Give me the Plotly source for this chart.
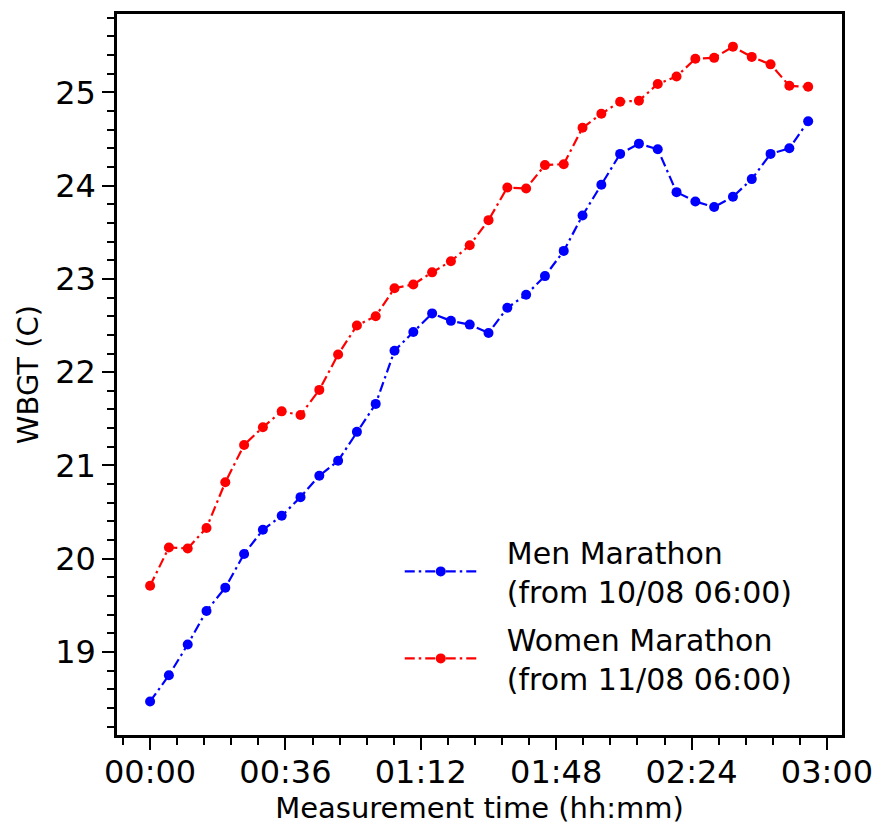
import plotly.graph_objects as go

minutes = [0, 5, 10, 15, 20, 25, 30, 35, 40, 45, 50, 55, 60, 65, 70, 75, 80, 85,
           90, 95, 100, 105, 110, 115, 120, 125, 130, 135, 140, 145, 150, 155, 160, 165, 170, 175]

men_wbgt = [18.47, 18.75, 19.08, 19.44, 19.69, 20.05, 20.31, 20.46, 20.66, 20.89,
            21.05, 21.36, 21.66, 22.23, 22.43, 22.63, 22.55, 22.51, 22.42, 22.69,
            22.83, 23.03, 23.30, 23.68, 24.01, 24.34, 24.45, 24.39, 23.93, 23.83,
            23.77, 23.88, 24.07, 24.34, 24.40, 24.69]

women_wbgt = [19.71, 20.12, 20.11, 20.33, 20.82, 21.22, 21.41, 21.58, 21.54, 21.81,
              22.19, 22.50, 22.60, 22.90, 22.94, 23.07, 23.19, 23.36, 23.63, 23.98,
              23.97, 24.22, 24.23, 24.62, 24.77, 24.90, 24.91, 25.09, 25.17, 25.36,
              25.37, 25.49, 25.38, 25.30, 25.07, 25.06]

x_tick_vals = [0, 36, 72, 108, 144, 180]
x_tick_text = ["00:00", "00:36", "01:12", "01:48", "02:24", "03:00"]

series_names = ["Men Marathon<br>(from 10/08 06:00)", "Women Marathon<br>(from 11/08 06:00)"]
series_colors = ["#0000ff", "#ff0000"]

FONT = "DejaVu Sans"
DASH = "10px,4px,2.5px,4px"
PAD = "\u00a0\u00a0\u2009"

fig = go.Figure()
for i, (name, vals, col) in enumerate(zip(series_names, [men_wbgt, women_wbgt], series_colors)):
    label = "<br>".join(PAD + part for part in name.split("<br>"))
    fig.add_trace(go.Scatter(
        x=minutes, y=vals, mode="lines+markers", name=label,
        legendgroup="g%d" % i,
        line=dict(color=col, width=2.2, dash=DASH),
        marker=dict(color=col, size=10, symbol="circle"),
    ))

axis_common = dict(
    showline=True, linecolor="black", linewidth=2.5, mirror=True,
    ticks="outside", ticklen=12, tickwidth=2, tickcolor="black",
    showgrid=False, zeroline=False,
    tickfont=dict(family=FONT, size=32, color="black"),
)

fig.update_xaxes(
    **axis_common,
    range=[-8.8, 184],
    tickmode="array", tickvals=x_tick_vals, ticktext=x_tick_text,
    ticklabelstandoff=-5,
    minor=dict(ticks="outside", ticklen=7, tickwidth=2, tickcolor="black", dtick=7.2, tick0=0),
    title=dict(text="Measurement time (hh:mm)", font=dict(family=FONT, size=29, color="black"), standoff=0),
)
fig.update_yaxes(
    **axis_common,
    range=[18.11, 25.84],
    dtick=1, tick0=0,
    minor=dict(ticks="outside", ticklen=7, tickwidth=2, tickcolor="black", dtick=0.2, tick0=0),
    title=dict(text="WBGT (C)", font=dict(family=FONT, size=29, color="black"), standoff=8),
)

fig.update_layout(
    width=881, height=824,
    margin=dict(l=109, r=47, t=3, b=97),
    plot_bgcolor="white", paper_bgcolor="white",
    font=dict(family=FONT, color="black"),
    legend=dict(
        x=0.39, y=0.29, xanchor="left", yanchor="top",
        bgcolor="rgba(0,0,0,0)", borderwidth=0,
        font=dict(family=FONT, size=30, color="black"),
        itemwidth=72, tracegroupgap=6, traceorder="grouped",
    ),
)

fig.write_html("out.html")
